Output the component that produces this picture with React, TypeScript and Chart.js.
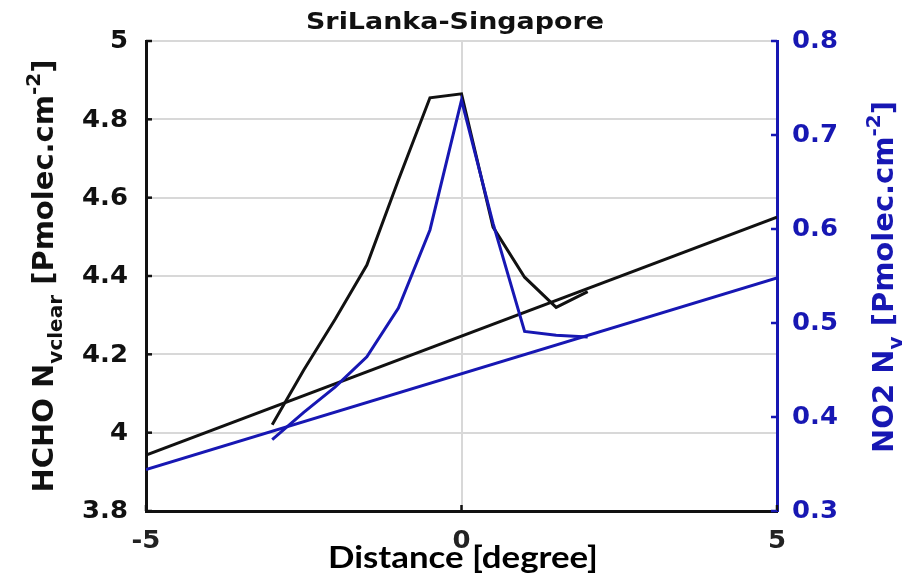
import React, { useEffect, useRef } from "react";
import { Chart, registerables } from "chart.js";

Chart.register(...registerables);

// Along-track distance of the profile samples [degree]
const distance = [-3, -2.5, -2, -1.5, -1, -0.5, 0, 0.5, 1, 1.5, 2];
// HCHO vertical column (clear sky) along the transect [Pmolec.cm^-2]
const hchoProfile = [4.02, 4.16, 4.29, 4.428, 4.645, 4.855, 4.865, 4.525, 4.397, 4.32, 4.36];
// NO2 vertical column along the transect [Pmolec.cm^-2]
const no2Profile = [0.376, 0.405, 0.432, 0.464, 0.516, 0.599, 0.737, 0.606, 0.491, 0.487, 0.485];
// Background (linear) fits spanning the full window
const fitDistance = [-5, 5];
const hchoFit = [3.943, 4.55];
const no2Fit = [0.344, 0.548];
// Tick values
const distanceTicks = [-5, 0, 5];
const hchoTicks = [3.8, 4, 4.2, 4.4, 4.6, 4.8, 5];
const no2Ticks = [0.3, 0.4, 0.5, 0.6, 0.7, 0.8];

const BLUE = "#1717b3";
const BLACK = "#111111";
const GRID = "#d8d8d8";
const TICK_FONT = "bold 24px 'DejaVu Sans'";
const TICK_STRETCH = 1.08;

type Part = { t: string; k?: "sub" | "sup" };

const fmt = (v: number) => String(Number(v.toFixed(2)));

function drawStretched(
  ctx: CanvasRenderingContext2D,
  text: string,
  x: number,
  y: number,
  align: CanvasTextAlign,
  baseline: CanvasTextBaseline,
  stretch: number
) {
  ctx.save();
  ctx.translate(x, y);
  ctx.scale(stretch, 1);
  ctx.textAlign = align;
  ctx.textBaseline = baseline;
  ctx.fillText(text, 0, 0);
  ctx.restore();
}

function drawRotatedRich(
  ctx: CanvasRenderingContext2D,
  parts: Part[],
  cx: number,
  cy: number,
  size: number,
  color: string
) {
  const small = Math.round(size * 0.7);
  const fontFor = (p: Part) => `bold ${p.k ? small : size}px 'DejaVu Sans'`;
  let total = 0;
  const widths = parts.map((p) => {
    ctx.font = fontFor(p);
    const w = ctx.measureText(p.t).width;
    total += w;
    return w;
  });
  ctx.save();
  ctx.translate(cx, cy);
  ctx.rotate(-Math.PI / 2);
  ctx.fillStyle = color;
  ctx.textAlign = "left";
  ctx.textBaseline = "alphabetic";
  const base = size * 0.36;
  let u = -total / 2;
  parts.forEach((p, i) => {
    ctx.font = fontFor(p);
    let v = base;
    if (p.k === "sub") v = base + size * 0.3;
    if (p.k === "sup") v = base - size * 0.45;
    ctx.fillText(p.t, u, v);
    u += widths[i];
  });
  ctx.restore();
}

const annotations = {
  id: "annotations",
  afterDatasetsDraw(chart: any) {
    const { ctx, chartArea, scales } = chart;
    ctx.save();
    // inward tick marks
    ctx.lineWidth = 2.5;
    ctx.strokeStyle = BLACK;
    hchoTicks.forEach((v) => {
      const y = scales.y.getPixelForValue(v);
      ctx.beginPath();
      ctx.moveTo(chartArea.left, y);
      ctx.lineTo(chartArea.left + 6, y);
      ctx.stroke();
    });
    distanceTicks.forEach((v) => {
      const x = scales.x.getPixelForValue(v);
      ctx.beginPath();
      ctx.moveTo(x, chartArea.bottom);
      ctx.lineTo(x, chartArea.bottom - 6);
      ctx.stroke();
    });
    ctx.strokeStyle = BLUE;
    no2Ticks.forEach((v) => {
      const y = scales.y2.getPixelForValue(v);
      ctx.beginPath();
      ctx.moveTo(chartArea.right, y);
      ctx.lineTo(chartArea.right - 6, y);
      ctx.stroke();
    });
    ctx.restore();
  },
  afterDraw(chart: any) {
    const { ctx, chartArea, scales } = chart;
    ctx.save();
    // tick labels
    ctx.font = TICK_FONT;
    ctx.fillStyle = BLACK;
    hchoTicks.forEach((v) => {
      drawStretched(ctx, fmt(v), chartArea.left - 18, scales.y.getPixelForValue(v) + 1, "right", "middle", TICK_STRETCH);
    });
    ctx.fillStyle = "#222";
    distanceTicks.forEach((v) => {
      drawStretched(ctx, fmt(v), scales.x.getPixelForValue(v), chartArea.bottom + 31, "center", "middle", TICK_STRETCH);
    });
    ctx.fillStyle = BLUE;
    no2Ticks.forEach((v) => {
      drawStretched(ctx, fmt(v), chartArea.right + 15, scales.y2.getPixelForValue(v) + 1, "left", "middle", TICK_STRETCH);
    });
    // title and x-axis label
    ctx.fillStyle = BLACK;
    ctx.font = "bold 23px 'DejaVu Sans'";
    drawStretched(ctx, "SriLanka-Singapore", 455, 29, "center", "alphabetic", 1.17);
    ctx.fillStyle = "#000";
    ctx.font = "bold 30px Lato";
    drawStretched(ctx, "Distance [degree]", 463, 568, "center", "alphabetic", 1.16);
    ctx.restore();
    drawRotatedRich(
      ctx,
      [{ t: "HCHO N" }, { t: "vclear", k: "sub" }, { t: " [Pmolec.cm" }, { t: "-2", k: "sup" }, { t: "]" }],
      43,
      276,
      29,
      BLACK
    );
    drawRotatedRich(
      ctx,
      [{ t: "NO2 N" }, { t: "v", k: "sub" }, { t: " [Pmolec.cm" }, { t: "-2", k: "sup" }, { t: "]" }],
      883,
      277,
      29,
      BLUE
    );
  },
};

export default function App() {
  const ref = useRef<HTMLCanvasElement>(null);
  useEffect(() => {
    document.body.style.margin = "0";
    const line = (d: number[], xs: number[], color: string, axis: string, order: number) => ({
      data: xs.map((x, i) => ({ x, y: d[i] })),
      yAxisID: axis,
      borderColor: color,
      backgroundColor: color,
      borderWidth: 3,
      showLine: true,
      pointRadius: 0,
      fill: false,
      tension: 0,
      order,
    });
    const chart = new Chart(ref.current!, {
      type: "scatter",
      data: {
        datasets: [
          line(no2Profile, distance, BLUE, "y2", 0),
          line(no2Fit, fitDistance, BLUE, "y2", 1),
          line(hchoProfile, distance, BLACK, "y", 2),
          line(hchoFit, fitDistance, BLACK, "y", 3),
        ] as any,
      },
      options: {
        responsive: false,
        animation: false,
        devicePixelRatio: 1,
        layout: { padding: { top: 41, left: 0, right: 0, bottom: 0 } },
        plugins: { legend: { display: false }, tooltip: { enabled: false }, title: { display: false } },
        scales: {
          x: {
            type: "linear",
            min: -5,
            max: 5,
            afterBuildTicks: (s: any) => {
              s.ticks = distanceTicks.map((value) => ({ value }));
            },
            afterFit: (s: any) => {
              s.height = 63;
            },
            grid: { color: GRID, lineWidth: 2, drawTicks: false },
            border: { color: BLACK, width: 3 },
            ticks: { display: false },
          },
          y: {
            type: "linear",
            position: "left",
            min: 3.8,
            max: 5,
            afterBuildTicks: (s: any) => {
              s.ticks = hchoTicks.map((value) => ({ value }));
            },
            afterFit: (s: any) => {
              s.width = 146;
            },
            grid: { color: GRID, lineWidth: 2, drawTicks: false },
            border: { color: BLACK, width: 3 },
            ticks: { display: false },
          },
          y2: {
            type: "linear",
            position: "right",
            min: 0.3,
            max: 0.8,
            afterBuildTicks: (s: any) => {
              s.ticks = no2Ticks.map((value) => ({ value }));
            },
            afterFit: (s: any) => {
              s.width = 127;
            },
            grid: { display: false, drawTicks: false },
            border: { color: BLUE, width: 3 },
            ticks: { display: false },
          },
        },
      } as any,
      plugins: [annotations],
    });
    return () => chart.destroy();
  }, []);
  return (
    <div style={{ position: "fixed", left: 0, top: 0, width: 904, height: 574, background: "#fff" }}>
      <canvas ref={ref} width={904} height={574} style={{ display: "block" }} />
    </div>
  );
}
